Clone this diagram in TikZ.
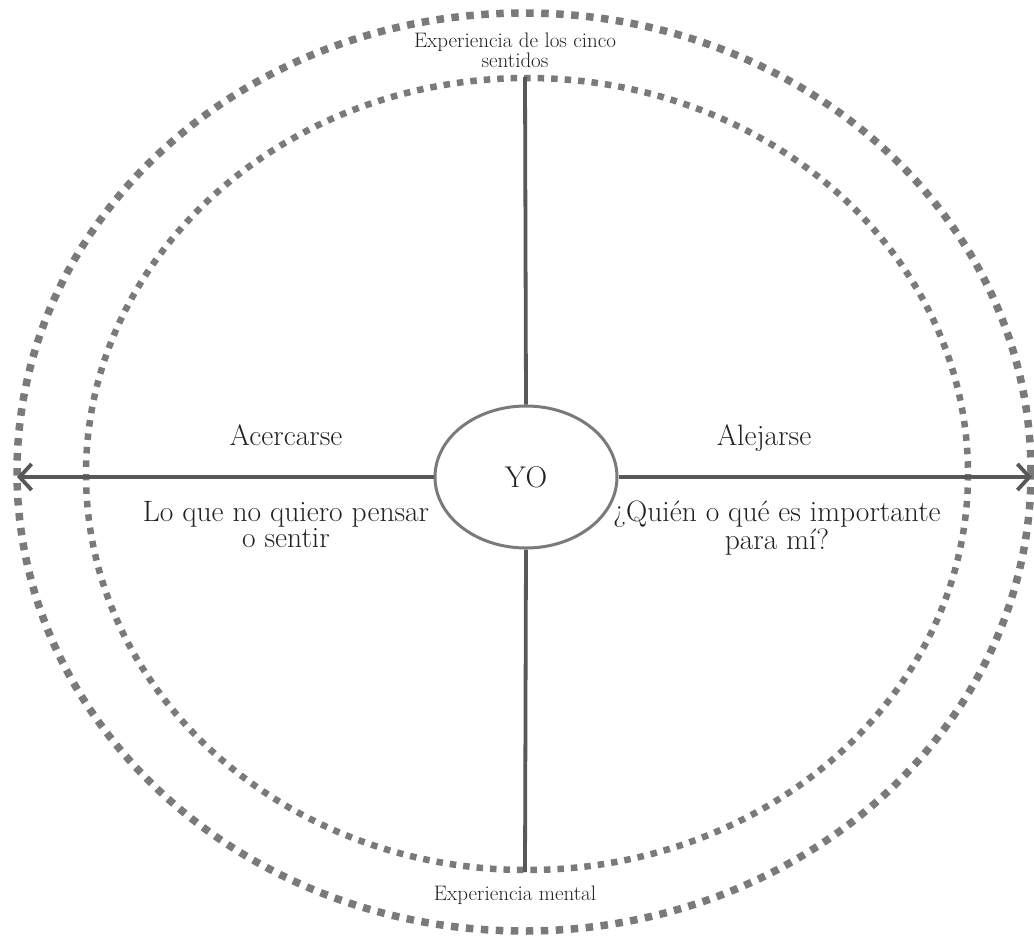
\documentclass[tikz,border=0pt]{standalone}
\usepackage{fontspec}
\usepackage{tikz}
\usetikzlibrary{arrows.meta,shapes.geometric}
\definecolor{gris}{HTML}{7A7A7A}
\definecolor{grisosc}{HTML}{585858}
\definecolor{texto}{HTML}{222222}

\begin{document}
\begin{tikzpicture}[
  x=1pt, y=-1pt,
  puntos/.style={draw=gris, line width=7.5pt, dash pattern=on 7.5pt off 7.5pt},
  puntosint/.style={draw=gris, line width=6.5pt, dash pattern=on 6.5pt off 7pt},
  eje/.style={draw=grisosc, line width=3.8pt},
  flecha/.style={eje, -{Straight Barb[length=12pt, width=26pt]}},
  grande/.style={font=\fontsize{29.5}{24}\selectfont, text=texto, align=center, inner sep=0pt},
  chica/.style={font=\fontsize{21}{17.5}\selectfont, text=texto, align=center, inner sep=0pt}
]
  \useasboundingbox (0,0) rectangle (1034,937);

  % dos anillos punteados
  \draw[puntos] (524,472) ellipse [x radius=507, y radius=459];
  \draw[puntosint] (527,474) ellipse [x radius=441, y radius=396];

  \node[draw=gris, line width=3pt, ellipse, minimum width=182pt, minimum height=142pt,
        inner sep=0pt, font=\fontsize{30}{30}\selectfont, text=texto] (yo) at (526,477) {YO};

  \coordinate (izq) at (17,477);
  \coordinate (der) at (1032,477);
  \coordinate (arriba) at (525,77);
  \coordinate (abajo) at (525,872);

  \draw[flecha] (yo.west) -- (izq);
  \draw[flecha] (yo.east) -- (der);
  \draw[eje] (yo.north) -- (arriba);
  \draw[eje] (yo.south) -- (abajo);

  \node[chica] (cinco) at (515,50) {Experiencia de los cinco\\sentidos};
  \node[chica, anchor=base] (mental) at (515,900) {Experiencia mental};
  \node[grande, anchor=base] (acercarse) at (286,445) {Acercarse};
  \node[grande, anchor=base] (alejarse) at (764,445) {Alejarse};
  \node[grande, anchor=north] (noquiero) at (286,501) {Lo que no quiero pensar\\o sentir};
  \node[grande, anchor=north] (importante) at (777,501) {¿Quién o qué es importante\\para mí?};
\end{tikzpicture}
\end{document}
